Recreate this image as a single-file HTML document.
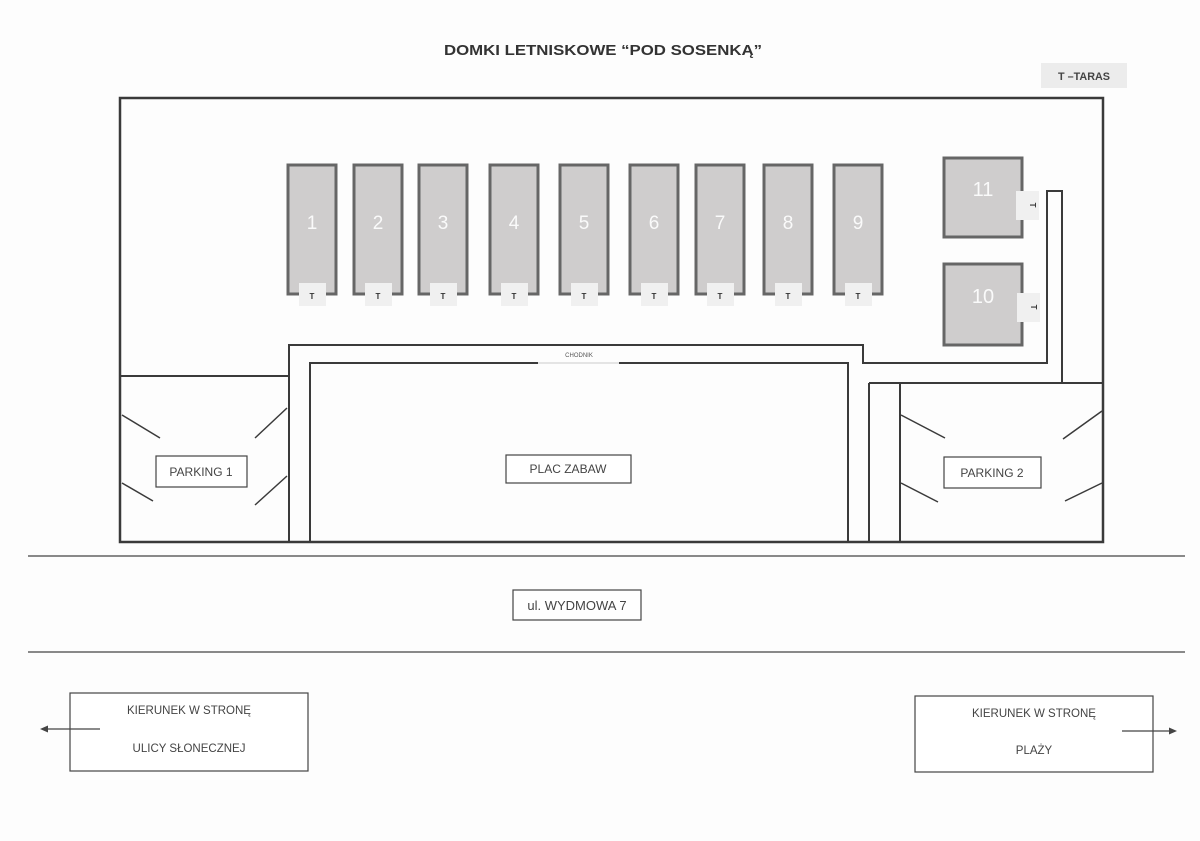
<!DOCTYPE html>
<html><head><meta charset="utf-8"><style>
html,body{margin:0;padding:0;background:#fff;}
svg{display:block;}
text{font-family:"Liberation Sans",sans-serif;}
</style></head><body>
<svg width="1200" height="841" viewBox="0 0 1200 841" xmlns="http://www.w3.org/2000/svg">
<rect width="1200" height="841" fill="#fdfdfd"/>
<text x="603" y="55" text-anchor="middle" font-size="15" font-weight="bold" fill="#333" textLength="318" lengthAdjust="spacingAndGlyphs">DOMKI LETNISKOWE “POD SOSENKĄ”</text>
<rect x="1041" y="63" width="86" height="25" fill="#ececec"/>
<text x="1084" y="80" text-anchor="middle" font-size="11" font-weight="bold" fill="#444" textLength="52" lengthAdjust="spacingAndGlyphs">T –TARAS</text>

<g fill="none" stroke="#3a3a3a" stroke-width="2">
<rect x="120" y="98" width="983" height="444" stroke-width="2.5"/>
<polyline points="289,542 289,345 863,345 863,363 1047,363 1047,191 1062,191 1062,383"/>
<polyline points="310,542 310,363 538,363"/>
<polyline points="619,363 848,363 848,542"/>
<line x1="120" y1="376" x2="289" y2="376"/>
<line x1="869" y1="383" x2="1103" y2="383"/>
<line x1="869" y1="383" x2="869" y2="542"/>
<line x1="900" y1="383" x2="900" y2="542"/>
</g>
<line x1="538" y1="363" x2="619" y2="363" stroke="#ccc" stroke-width="1"/>
<text x="579" y="357" text-anchor="middle" font-size="6" fill="#555">CHODNIK</text>

<g stroke="#3a3a3a" stroke-width="1.5">
<line x1="122" y1="415" x2="160" y2="438"/>
<line x1="122" y1="483" x2="153" y2="501"/>
<line x1="287" y1="408" x2="255" y2="438"/>
<line x1="287" y1="476" x2="255" y2="505"/>
<line x1="901" y1="415" x2="945" y2="438"/>
<line x1="901" y1="483" x2="938" y2="502"/>
<line x1="1102" y1="411" x2="1063" y2="439"/>
<line x1="1102" y1="483" x2="1065" y2="501"/>
</g>
<g fill="#fff" stroke="#444" stroke-width="1.2">
<rect x="156" y="456" width="91" height="31"/>
<rect x="506" y="455" width="125" height="28"/>
<rect x="944" y="457" width="97" height="31"/>
<rect x="513" y="590" width="128" height="30"/>
<rect x="70" y="693" width="238" height="78"/>
<rect x="915" y="696" width="238" height="76"/>
</g>
<g font-size="12" fill="#444" text-anchor="middle">
<text x="201" y="476">PARKING 1</text>
<text x="568" y="473">PLAC ZABAW</text>
<text x="992" y="477">PARKING 2</text>
<text x="577" y="610" font-size="13">ul. WYDMOWA 7</text>
<text x="189" y="714" font-size="11.5">KIERUNEK W STRONĘ</text>
<text x="189" y="752" font-size="11.5">ULICY SŁONECZNEJ</text>
<text x="1034" y="717" font-size="11.5">KIERUNEK W STRONĘ</text>
<text x="1034" y="754" font-size="11.5">PLAŻY</text>
</g>
<g stroke="#444" stroke-width="1.3">
<line x1="28" y1="556" x2="1185" y2="556"/>
<line x1="28" y1="652" x2="1185" y2="652"/>
<line x1="46" y1="729" x2="100" y2="729"/>
<line x1="1122" y1="731" x2="1171" y2="731"/>
</g>
<polygon points="40,729 48,725.5 48,732.5" fill="#444"/>
<polygon points="1177,731 1169,727.5 1169,734.5" fill="#444"/>

<g stroke="#666" stroke-width="3" fill="#cfcdcd">
<rect x="288" y="165" width="48" height="129"/>
<rect x="354" y="165" width="48" height="129"/>
<rect x="419" y="165" width="48" height="129"/>
<rect x="490" y="165" width="48" height="129"/>
<rect x="560" y="165" width="48" height="129"/>
<rect x="630" y="165" width="48" height="129"/>
<rect x="696" y="165" width="48" height="129"/>
<rect x="764" y="165" width="48" height="129"/>
<rect x="834" y="165" width="48" height="129"/>
<rect x="944" y="158" width="78" height="79"/>
<rect x="944" y="264" width="78" height="81"/>
</g>
<g fill="#f0f0f0">
<rect x="299" y="283" width="27" height="23"/>
<rect x="365" y="283" width="27" height="23"/>
<rect x="430" y="283" width="27" height="23"/>
<rect x="501" y="283" width="27" height="23"/>
<rect x="571" y="283" width="27" height="23"/>
<rect x="641" y="283" width="27" height="23"/>
<rect x="707" y="283" width="27" height="23"/>
<rect x="775" y="283" width="27" height="23"/>
<rect x="845" y="283" width="27" height="23"/>
<rect x="1016" y="191" width="23" height="29"/>
<rect x="1017" y="293" width="23" height="29"/>
</g>
<g font-size="8" font-weight="bold" fill="#333" text-anchor="middle">
<text x="312" y="299">T</text><text x="378" y="299">T</text><text x="443" y="299">T</text>
<text x="514" y="299">T</text><text x="584" y="299">T</text><text x="654" y="299">T</text>
<text x="720" y="299">T</text><text x="788" y="299">T</text><text x="858" y="299">T</text>
<text transform="translate(1030,205) rotate(90)">T</text>
<text transform="translate(1031,307) rotate(90)">T</text>
</g>
<g font-size="19" fill="#fafafa" text-anchor="middle">
<text x="312" y="229">1</text><text x="378" y="229">2</text><text x="443" y="229">3</text>
<text x="514" y="229">4</text><text x="584" y="229">5</text><text x="654" y="229">6</text>
<text x="720" y="229">7</text><text x="788" y="229">8</text><text x="858" y="229">9</text>
<text x="983" y="196" font-size="20">11</text>
<text x="983" y="303" font-size="20">10</text>
</g>
</svg>
</body></html>
